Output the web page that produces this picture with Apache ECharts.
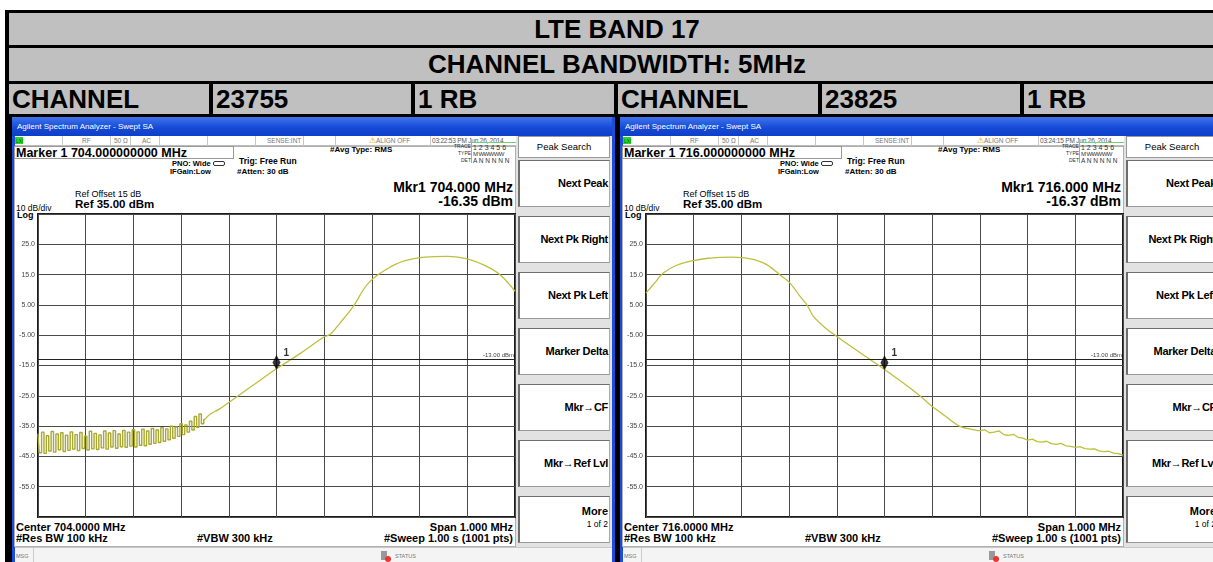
<!DOCTYPE html>
<html>
<head>
<meta charset="utf-8">
<title>LTE Band 17 - Channel Bandwidth 5MHz</title>
<script src="https://cdn.jsdelivr.net/npm/echarts@6.0.0/dist/echarts.min.js"></script>
<style>
body{margin:0;width:1213px;height:562px;overflow:hidden;background:#fff;position:relative;font-family:"Liberation Sans",Arial,sans-serif;color:#000}
.a{position:absolute;white-space:nowrap;line-height:1}
.base{position:absolute;left:5px;top:10px;width:1220px;height:560px;background:#000}
.cell{position:absolute;background:#c0c0c0;font-weight:bold;font-size:26px;display:flex;align-items:center;overflow:hidden;white-space:nowrap}
.panel{position:absolute;top:117px;width:603px;height:445px;background:#1c4cda;overflow:hidden}
.bx{position:absolute;box-sizing:border-box}
#chart{position:absolute;left:0;top:0;width:1213px;height:562px;z-index:5}
</style>
</head>
<body>
<div class="base"></div>
<div id="hdr"></div>
<div id="panels"></div>
<div id="chart"></div>
<script>
// ---- data ----
// left screen: channel 23755, 703.5 .. 704.5 MHz
var leftNoiseFreq = [703.500, 703.505, 703.510, 703.515, 703.520, 703.525, 703.530, 703.535, 703.540, 703.545,
  703.550, 703.555, 703.560, 703.565, 703.570, 703.575, 703.580, 703.585, 703.590, 703.595,
  703.600, 703.605, 703.610, 703.615, 703.620, 703.625, 703.630, 703.635, 703.640, 703.645,
  703.650, 703.655, 703.660, 703.665, 703.670, 703.675, 703.680, 703.685, 703.690, 703.695,
  703.700, 703.705, 703.710, 703.715, 703.720, 703.725, 703.730, 703.735, 703.740, 703.745,
  703.750, 703.755, 703.760, 703.765, 703.770, 703.775, 703.780, 703.785, 703.790, 703.795,
  703.800, 703.805, 703.810, 703.815, 703.820, 703.825, 703.830, 703.835, 703.840, 703.845, 703.850];
var leftNoiseLevel = [-37.5, -43.8, -37.0, -44.0, -38.2, -43.2, -36.8, -43.6, -37.6, -42.8,
  -37.2, -43.4, -38.0, -43.0, -36.9, -42.6, -37.8, -43.1, -37.1, -42.4,
  -38.3, -42.9, -36.7, -42.5, -37.4, -42.7, -37.9, -42.2, -36.6, -42.6,
  -37.3, -41.9, -36.5, -42.3, -37.6, -41.8, -36.4, -42.0, -37.0, -41.6,
  -36.2, -41.9, -36.9, -41.3, -36.0, -41.5, -36.6, -41.0, -35.8, -40.7,
  -36.3, -40.4, -35.5, -40.0, -35.9, -39.5, -35.0, -39.0, -35.3, -38.4,
  -34.2, -37.8, -34.6, -37.0, -33.4, -36.3, -31.8, -35.4, -31.0, -34.2, -32.8];
var leftFreq = [703.850, 703.860, 703.880, 703.900, 703.950, 704.000, 704.050, 704.100, 704.112, 704.133,
  704.161, 704.182, 704.195, 704.212, 704.231, 704.248, 704.270, 704.301, 704.330, 704.357,
  704.380, 704.402, 704.434, 704.469, 704.500];
var leftLevel = [-32.8, -31.2, -29.4, -27.2, -21.6, -16.1, -11.0, -5.5, -4.8, -1.0,
  4.5, 10.0, 12.6, 14.9, 16.8, 18.3, 19.6, 20.6, 20.9, 21.0,
  20.8, 20.1, 18.2, 14.9, 9.5];
var leftMarker = [704.0, -16.35];

// right screen: channel 23825, 715.5 .. 716.5 MHz
var rightFreq = [715.500, 715.520, 715.536, 715.563, 715.599, 715.630, 715.655, 715.680, 715.701, 715.730,
  715.754, 715.781, 715.802, 715.823, 715.837, 715.851, 715.876, 715.900, 715.950, 716.000,
  716.050, 716.074, 716.099, 716.130, 716.157, 716.180, 716.200];
var rightLevel = [8.9, 12.6, 15.5, 18.0, 19.6, 20.4, 20.7, 20.8, 20.6, 19.8,
  18.2, 14.9, 12.2, 7.8, 5.1, 1.2, -2.6, -5.4, -10.9, -16.3,
  -22.0, -25.0, -28.4, -32.0, -35.0, -36.0, -36.6];
var rightTailFreq = [716.20, 716.21, 716.22, 716.23, 716.24, 716.25, 716.26, 716.27, 716.28, 716.29,
  716.30, 716.31, 716.32, 716.33, 716.34, 716.35, 716.36, 716.37, 716.38, 716.39,
  716.40, 716.41, 716.42, 716.43, 716.44, 716.45, 716.46, 716.47, 716.48, 716.49, 716.50];
var rightTailLevel = [-36.6, -36.2, -37.2, -37.0, -36.6, -37.8, -38.1, -37.7, -38.7, -39.0,
  -39.6, -39.3, -40.1, -40.3, -40.0, -40.8, -41.0, -40.7, -41.5, -41.7,
  -42.0, -41.8, -42.4, -42.6, -42.5, -43.2, -43.4, -43.3, -43.9, -44.1, -44.6];
var rightMarker = [716.0, -16.37];

var displayLine = -13;
var yTickValues = [-55, -45, -35, -25, -15, -5, 5, 15, 25];
var yTickLabels = ['-55.0', '-45.0', '-35.0', '-25.0', '-15.0', '-5.00', '5.00', '15.0', '25.0'];
var softKeys = ['Next Peak', 'Next Pk Right', 'Next Pk Left', 'Marker Delta', 'Mkr\u2192CF', 'Mkr\u2192Ref Lvl', 'More'];

// ---- header table ----
var hdr = document.getElementById('hdr');
function cell(x, y, w, h, s, center) {
  var d = document.createElement('div');
  d.className = 'cell';
  d.style.left = x + 'px'; d.style.top = y + 'px';
  d.style.width = w + 'px'; d.style.height = h + 'px';
  d.style.justifyContent = center ? 'center' : 'flex-start';
  if (!center) d.style.paddingLeft = '3px';
  d.style.boxSizing = 'border-box';
  d.textContent = s;
  hdr.appendChild(d);
}
cell(9, 13, 1216, 32, 'LTE BAND 17', true);
cell(9, 48, 1216, 33, 'CHANNEL BANDWIDTH: 5MHz', true);
cell(9, 84, 200, 30, 'CHANNEL');
cell(213, 84, 198, 30, '23755');
cell(415, 84, 199, 30, '1 RB');
cell(618, 84, 200, 30, 'CHANNEL');
cell(822, 84, 198, 30, '23825');
cell(1024, 84, 200, 30, '1 RB');

// ---- analyzer screen chrome ----
function txt(par, s, x, y, size, extra) {
  var d = document.createElement('div');
  d.className = 'a';
  d.textContent = s;
  d.style.left = x + 'px';
  d.style.top = (y - size / 2) + 'px';
  d.style.fontSize = size + 'px';
  if (extra) Object.assign(d.style, extra);
  par.appendChild(d);
  return d;
}
function box(par, x, y, w, h, st) {
  var d = document.createElement('div');
  d.className = 'bx';
  d.style.left = x + 'px'; d.style.top = y + 'px';
  d.style.width = w + 'px'; d.style.height = h + 'px';
  if (st) Object.assign(d.style, st);
  par.appendChild(d);
  return d;
}
var B = {fontWeight: 'bold'};
var R = {transform: 'translateX(-100%)'};
var RB = {transform: 'translateX(-100%)', fontWeight: 'bold'};

function buildPanel(dx, p) {
  var pn = document.createElement('div');
  pn.className = 'panel';
  pn.style.left = (12 + dx) + 'px';
  document.getElementById('panels').appendChild(pn);
  // title bar
  box(pn, 0, 0, 603, 19, {background: 'linear-gradient(#3f74ec,#1448d6 60%,#0f3fc8)'});
  txt(pn, 'Agilent Spectrum Analyzer - Swept SA', 5, 10, 8, {color: '#fff'});
  // white screen
  box(pn, 3, 19, 597, 426, {background: '#fff'});
  // status row
  box(pn, 3, 19, 501, 10, {borderBottom: '1px solid #bbb', background: '#fff'});
  box(pn, 3, 20, 8, 7, {background: '#2ad52a'});
  txt(pn, 'LXI', 4, 24, 5, {color: '#063'});
  [50, 98, 118, 147, 195, 243, 291, 323, 418].forEach(function (x) {
    box(pn, x, 19, 1, 10, {background: '#c8c8c8'});
  });
  txt(pn, 'RF', 70, 24, 6.5, {color: '#777'});
  txt(pn, '50 \u03A9', 102, 24, 6.5, {color: '#777'});
  txt(pn, 'AC', 130, 24, 6.5, {color: '#777'});
  txt(pn, 'SENSE:INT', 255, 24, 6.5, {color: '#777'});
  txt(pn, '\u26A0', 357, 23.5, 8, {color: '#d4a000'});
  txt(pn, 'ALIGN OFF', 364, 24, 6.5, {color: '#777'});
  txt(pn, p.time, 420, 24, 6.5, {color: '#555', letterSpacing: '-0.2px'});
  // info frame
  box(pn, 2, 29, 502, 401, {border: '1px solid #b0b0b0'});
  box(pn, 2, 29, 220, 13, {border: '1px solid #999'});
  txt(pn, p.marker, 4, 36, 12.5, B);
  txt(pn, 'PNO: Wide', 160, 47, 7.5, B);
  box(pn, 201, 44, 12, 5, {border: '1px solid #333', borderRadius: '2px'});
  txt(pn, 'IFGain:Low', 158, 55, 7.5, B);
  txt(pn, 'Trig: Free Run', 227, 44, 8.5, B);
  txt(pn, '#Atten: 30 dB', 225, 55, 8, B);
  txt(pn, '#Avg Type: RMS', 318, 33, 8, B);
  txt(pn, 'TRACE', 442, 29.5, 5, {color: '#333'});
  box(pn, 459, 25, 46, 21, {borderLeft: '1px solid #7c7', borderTop: '1px solid #7c7'});
  txt(pn, '1 2 3 4 5 6', 461, 30, 7, {color: '#333'});
  txt(pn, 'TYPE', 446, 36.5, 5, {color: '#333'});
  txt(pn, 'M WWWWW', 461, 37, 6, {color: '#333', letterSpacing: '-0.6px'});
  txt(pn, 'DET', 449, 43.5, 5, {color: '#333'});
  txt(pn, 'A N N N N N', 461, 44, 6.5, {color: '#333'});
  txt(pn, p.mkrF, 501, 70, 14, RB);
  txt(pn, p.mkrL, 501, 84, 14, RB);
  txt(pn, 'Ref Offset 15 dB', 63, 77, 9);
  txt(pn, 'Ref 35.00 dBm', 63, 88, 11.5, B);
  txt(pn, '10 dB/div', 4, 91, 8.5);
  txt(pn, 'Log', 5, 98, 9, B);
  txt(pn, p.center, 4, 410, 11, B);
  txt(pn, '#Res BW 100 kHz', 4, 421, 11, B);
  txt(pn, '#VBW 300 kHz', 185, 421, 11, B);
  txt(pn, 'Span 1.000 MHz', 501, 410, 11, RB);
  txt(pn, '#Sweep  1.00 s (1001 pts)', 501, 421, 11, RB);
  // message bar
  box(pn, 3, 430, 597, 15, {background: '#f4f4f4', borderTop: '1px solid #c8c8c8'});
  box(pn, 21, 430, 1, 15, {background: '#ccc'});
  txt(pn, 'MSG', 4, 440, 5.5, {color: '#777'});
  box(pn, 369, 434, 6, 9, {background: '#999'});
  box(pn, 373, 439, 6, 6, {background: '#e33', borderRadius: '3px'});
  txt(pn, 'STATUS', 383, 440, 5.5, {color: '#777'});
  // soft keys
  box(pn, 504, 19, 96, 411, {background: '#e2e2e2'});
  box(pn, 506, 19, 92, 22, {background: '#fff', border: '1px solid #999'});
  txt(pn, 'Peak Search', 552, 30, 9.5, {transform: 'translateX(-50%)'});
  softKeys.forEach(function (k, i) {
    var top = 43 + i * 56;
    box(pn, 506, top, 92, 47, {background: '#fff', borderLeft: '2px solid #6e6e6e', borderTop: '1px solid #6e6e6e', borderRight: '1px solid #aaa', borderBottom: '1px solid #999'});
    if (i === softKeys.length - 1) {
      txt(pn, k, 596, top + 15, 11, RB);
      txt(pn, '1 of 2', 596, top + 28, 8.5, R);
    } else {
      txt(pn, k, 596, top + 23, 11, Object.assign({letterSpacing: '-0.3px'}, RB));
    }
  });
  box(pn, 600, 0, 3, 445, {background: '#1c4cda'});
}
buildPanel(0, {marker: 'Marker 1 704.000000000 MHz', time: '03:22:53 PM Jun 26, 2014',
  mkrF: 'Mkr1 704.000 MHz', mkrL: '-16.35 dBm', center: 'Center 704.0000 MHz'});
buildPanel(608, {marker: 'Marker 1 716.000000000 MHz', time: '03:24:15 PM Jun 26, 2014',
  mkrF: 'Mkr1 716.000 MHz', mkrL: '-16.37 dBm', center: 'Center 716.0000 MHz'});

// ---- traces ----
function pairs(xs, ys) {
  return xs.map(function (x, i) { return [x, ys[i]]; });
}
function axisX(idx, lo, hi) {
  return {
    type: 'value', gridIndex: idx, min: lo, max: hi, interval: 0.1,
    axisLabel: {show: false}, axisTick: {show: false}, axisLine: {show: false},
    splitLine: {show: true, lineStyle: {color: '#4a4a4a', width: 1}}
  };
}
function axisY(idx) {
  return {
    type: 'value', gridIndex: idx, min: -65, max: 35, interval: 10,
    axisTick: {show: false}, axisLine: {show: false},
    axisLabel: {
      margin: 3, fontSize: 7, color: '#444', fontFamily: 'Liberation Sans',
      showMinLabel: false, showMaxLabel: false,
      formatter: function (v) {
        var k = yTickValues.indexOf(Math.round(v));
        return k < 0 ? '' : yTickLabels[k];
      }
    },
    splitLine: {show: true, lineStyle: {color: '#4a4a4a', width: 1}}
  };
}
var traceColor = '#bfbf3c';
function markerSeries(idx, pt) {
  return {
    type: 'scatter', xAxisIndex: idx, yAxisIndex: idx, z: 6,
    data: [pt], symbol: 'diamond', symbolSize: [8, 15], symbolOffset: [0, -7],
    itemStyle: {color: '#000'},
    label: {show: true, formatter: '1', position: 'right', offset: [-2, -9], fontSize: 10, fontWeight: 'bold', color: '#000'},
    markLine: {
      silent: true, symbol: 'none', animation: false,
      lineStyle: {color: '#222', width: 1, type: 'solid'},
      label: {show: true, position: 'insideEndTop', formatter: '-13.00 dBm', fontSize: 6, color: '#444', distance: 1},
      data: [{yAxis: displayLine}]
    }
  };
}

var chart = echarts.init(document.getElementById('chart'));
chart.setOption({
  animation: false,
  grid: [
    {left: 38, top: 214, width: 477, height: 303, show: true, backgroundColor: '#fff', borderColor: '#1a1a1a', borderWidth: 2},
    {left: 646, top: 214, width: 477, height: 303, show: true, backgroundColor: '#fff', borderColor: '#1a1a1a', borderWidth: 2}
  ],
  xAxis: [axisX(0, 703.5, 704.5), axisX(1, 715.5, 716.5)],
  yAxis: [axisY(0), axisY(1)],
  series: [
    {
      type: 'line', xAxisIndex: 0, yAxisIndex: 0, data: pairs(leftNoiseFreq, leftNoiseLevel),
      step: 'middle', showSymbol: false, lineStyle: {color: '#a8a832', width: 1.4}, z: 3
    },
    {
      type: 'line', xAxisIndex: 0, yAxisIndex: 0, data: pairs(leftFreq, leftLevel),
      smooth: 0.4, showSymbol: false, lineStyle: {color: traceColor, width: 1.3}, z: 3
    },
    {
      type: 'line', xAxisIndex: 1, yAxisIndex: 1, data: pairs(rightFreq, rightLevel),
      smooth: 0.3, showSymbol: false, lineStyle: {color: traceColor, width: 1.3}, z: 3
    },
    {
      type: 'line', xAxisIndex: 1, yAxisIndex: 1, data: pairs(rightTailFreq, rightTailLevel),
      showSymbol: false, lineStyle: {color: traceColor, width: 1.3}, z: 3
    },
    markerSeries(0, leftMarker),
    markerSeries(1, rightMarker)
  ]
});
</script>
</body>
</html>
